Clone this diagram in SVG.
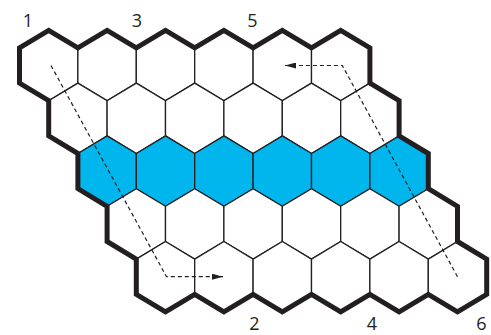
<svg xmlns="http://www.w3.org/2000/svg" xmlns:xlink="http://www.w3.org/1999/xlink" width="491" height="335" viewBox="0 0 491 335">
<style>
.cell{fill:#ffffff;stroke:#231f20;stroke-width:1.3;stroke-linejoin:miter}
.blue{fill:#00b6ec}
.border{fill:none;stroke:#231f20;stroke-width:5;stroke-linejoin:miter}
.lbl{font-family:"Open Sans","Liberation Sans",sans-serif;font-size:18px;fill:#231f20;text-anchor:middle}
.conn{fill:none;stroke:#231f20;stroke-width:1.2;stroke-dasharray:4 3}
</style>
<defs>
<polygon id="hex" points="0,-35.2 29.2,-17.6 29.2,17.6 0,35.2 -29.2,17.6 -29.2,-17.6"/>
<marker id="arrow" markerUnits="userSpaceOnUse" markerWidth="12" markerHeight="6" refX="11" refY="3" orient="auto">
<path d="M0,0 L11,3 L0,6 Z" fill="#231f20"/>
</marker>
</defs>
<g id="cells">
<g id="hex-0-0"><use xlink:href="#hex" class="cell" x="48.7" y="65.5"/></g>
<g id="hex-0-1"><use xlink:href="#hex" class="cell" x="107.1" y="65.5"/></g>
<g id="hex-0-2"><use xlink:href="#hex" class="cell" x="165.5" y="65.5"/></g>
<g id="hex-0-3"><use xlink:href="#hex" class="cell" x="223.9" y="65.5"/></g>
<g id="hex-0-4"><use xlink:href="#hex" class="cell" x="282.3" y="65.5"/></g>
<g id="hex-0-5"><use xlink:href="#hex" class="cell" x="340.7" y="65.5"/></g>
<g id="hex-1-0"><use xlink:href="#hex" class="cell" x="77.9" y="118.3"/></g>
<g id="hex-1-1"><use xlink:href="#hex" class="cell" x="136.3" y="118.3"/></g>
<g id="hex-1-2"><use xlink:href="#hex" class="cell" x="194.7" y="118.3"/></g>
<g id="hex-1-3"><use xlink:href="#hex" class="cell" x="253.1" y="118.3"/></g>
<g id="hex-1-4"><use xlink:href="#hex" class="cell" x="311.5" y="118.3"/></g>
<g id="hex-1-5"><use xlink:href="#hex" class="cell" x="369.9" y="118.3"/></g>
<g id="hex-2-0"><use xlink:href="#hex" class="cell blue" x="107.1" y="171.1"/></g>
<g id="hex-2-1"><use xlink:href="#hex" class="cell blue" x="165.5" y="171.1"/></g>
<g id="hex-2-2"><use xlink:href="#hex" class="cell blue" x="223.9" y="171.1"/></g>
<g id="hex-2-3"><use xlink:href="#hex" class="cell blue" x="282.3" y="171.1"/></g>
<g id="hex-2-4"><use xlink:href="#hex" class="cell blue" x="340.7" y="171.1"/></g>
<g id="hex-2-5"><use xlink:href="#hex" class="cell blue" x="399.1" y="171.1"/></g>
<g id="hex-3-0"><use xlink:href="#hex" class="cell" x="136.3" y="223.9"/></g>
<g id="hex-3-1"><use xlink:href="#hex" class="cell" x="194.7" y="223.9"/></g>
<g id="hex-3-2"><use xlink:href="#hex" class="cell" x="253.1" y="223.9"/></g>
<g id="hex-3-3"><use xlink:href="#hex" class="cell" x="311.5" y="223.9"/></g>
<g id="hex-3-4"><use xlink:href="#hex" class="cell" x="369.9" y="223.9"/></g>
<g id="hex-3-5"><use xlink:href="#hex" class="cell" x="428.3" y="223.9"/></g>
<g id="hex-4-0"><use xlink:href="#hex" class="cell" x="165.5" y="276.7"/></g>
<g id="hex-4-1"><use xlink:href="#hex" class="cell" x="223.9" y="276.7"/></g>
<g id="hex-4-2"><use xlink:href="#hex" class="cell" x="282.3" y="276.7"/></g>
<g id="hex-4-3"><use xlink:href="#hex" class="cell" x="340.7" y="276.7"/></g>
<g id="hex-4-4"><use xlink:href="#hex" class="cell" x="399.1" y="276.7"/></g>
<g id="hex-4-5"><use xlink:href="#hex" class="cell" x="457.5" y="276.7"/></g>
</g>
<g id="board-border">
<path class="border" d="M19.5,47.9 L48.7,30.3 L77.9,47.9 L107.1,30.3 L136.3,47.9 L165.5,30.3 L194.7,47.9 L223.9,30.3 L253.1,47.9 L282.3,30.3 L311.5,47.9 L340.7,30.3 L369.9,47.9 L369.9,83.1 L399.1,100.7 L399.1,135.9 L428.3,153.5 L428.3,188.7 L457.5,206.3 L457.5,241.5 L486.7,259.1 L486.7,294.3 L457.5,311.9 L428.3,294.3 L399.1,311.9 L369.9,294.3 L340.7,311.9 L311.5,294.3 L282.3,311.9 L253.1,294.3 L223.9,311.9 L194.7,294.3 L165.5,311.9 L136.3,294.3 L136.3,259.1 L107.1,241.5 L107.1,206.3 L77.9,188.7 L77.9,153.5 L48.7,135.9 L48.7,100.7 L19.5,83.1 Z"/>
</g>
<g id="labels">
<text class="lbl" x="28" y="26.5">1</text>
<text class="lbl" x="137" y="26.5">3</text>
<text class="lbl" x="252.5" y="26.5">5</text>
<text class="lbl" x="254.5" y="329.5">2</text>
<text class="lbl" x="371.8" y="329.5">4</text>
<text class="lbl" x="481.5" y="329.5">6</text>
</g>
<g id="connectors">
<path class="conn" d="M51,65.5 L166.5,276.7 L223,276.7" marker-end="url(#arrow)"/>
<path class="conn" d="M457.5,276.7 L342.3,65.5 L285,65.5" marker-end="url(#arrow)"/>
</g>
</svg>
